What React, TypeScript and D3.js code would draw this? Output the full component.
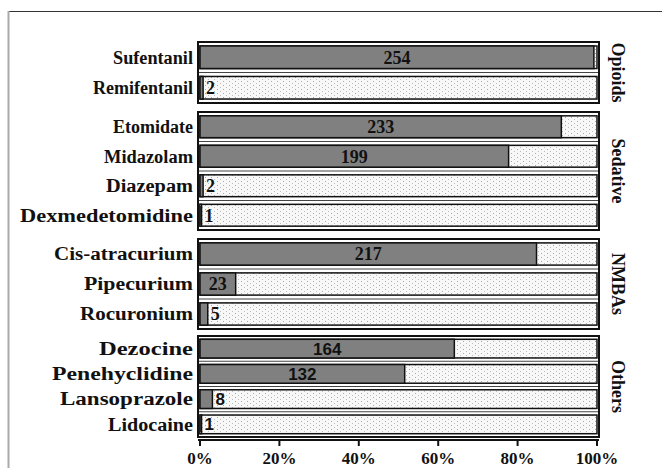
import React from "react";
import * as d3 from "d3";

const groupNames = ["Opioids", "Sedative", "NMBAs", "Others"];
const drugs = [
  "Sufentanil", "Remifentanil",
  "Etomidate", "Midazolam", "Diazepam", "Dexmedetomidine",
  "Cis-atracurium", "Pipecurium", "Rocuronium",
  "Dezocine", "Penehyclidine", "Lansoprazole", "Lidocaine",
];
const drugGroup = [0, 0, 1, 1, 1, 1, 2, 2, 2, 3, 3, 3, 3];
const counts = [254, 2, 233, 199, 2, 1, 217, 23, 5, 164, 132, 8, 1];
const TOTAL = 256;
const xTicks = [0, 20, 40, 60, 80, 100];

// layout (pixels)
const W = 662, H = 468;
const GROUP_TOP = [42, 112, 239, 336];
const GROUP_BOTTOM = [103, 230, 329, 437];
const X0 = 200, X1 = 597;
const AXIS_Y = 440;
const LABEL_RIGHT = 193;
// left edge of each category label as drawn in the reference (text stretching)
const LABEL_LEFT = [113, 93, 113, 104, 106, 20, 54, 84, 80, 99, 52, 60, 108];

const SERIF = "'Liberation Serif', 'Times New Roman', serif";
const SANS = "'Liberation Sans', Arial, sans-serif";

export default function App() {
  const x = d3.scaleLinear().domain([0, 100]).range([X0, X1]);

  const groups = groupNames.map((g, gi) => {
    const idx = drugs.map((_, i) => i).filter((i) => drugGroup[i] === gi);
    const y = d3
      .scaleBand<string>()
      .domain(idx.map((i) => drugs[i]))
      .range([GROUP_TOP[gi], GROUP_BOTTOM[gi]])
      .padding(0);
    return { name: g, gi, idx, y };
  });

  return (
    <svg
      width={W}
      height={H}
      style={{ position: "absolute", left: 0, top: 0, background: "#fff" }}
    >
      <defs>
        <pattern id="dots" width="6" height="4" patternUnits="userSpaceOnUse">
          <rect width="6" height="4" fill="#f8f8f8" />
          <rect x="1" y="1" width="1" height="1" fill="#a8a8a8" />
          <rect x="4" y="3" width="1" height="1" fill="#bdbdbd" />
        </pattern>
      </defs>
      <rect width={W} height={H} fill="#fff" />
      {/* frame */}
      <line x1={8} x2={W} y1={11.5} y2={11.5} stroke="#333" strokeWidth={1.2} />
      <line x1={8.5} x2={8.5} y1={11} y2={H} stroke="#aaa" strokeWidth={2} />

      {groups.map((g) => {
        const step = g.y.step();
        const bh = step * 0.74;
        const top = GROUP_TOP[g.gi];
        const bottom = GROUP_BOTTOM[g.gi];
        const isSans = g.gi === 3;
        return (
          <g key={g.name}>
            {g.idx.slice(1).map((i) => (
              <line
                key={"s" + i}
                x1={X0 - 2}
                x2={X1 + 2}
                y1={g.y(drugs[i])!}
                y2={g.y(drugs[i])!}
                stroke="#444"
                strokeWidth={1}
              />
            ))}
            {g.idx.map((i) => {
              const bt = g.y(drugs[i])! + (step - bh) / 2;
              const pct = (counts[i] / TOTAL) * 100;
              const xe = x(pct);
              const cy = bt + bh / 2;
              const inside = pct > 5;
              return (
                <g key={drugs[i]}>
                  <rect
                    x={X0}
                    y={bt}
                    width={X1 - X0}
                    height={bh}
                    fill="url(#dots)"
                    stroke="#111"
                    strokeWidth={1.5}
                  />
                  <rect
                    x={X0}
                    y={bt}
                    width={xe - X0}
                    height={bh}
                    fill="#808080"
                    stroke="#111"
                    strokeWidth={1.5}
                  />
                  <text
                    x={LABEL_RIGHT}
                    y={cy}
                    dy="0.35em"
                    textAnchor="end"
                    textLength={LABEL_RIGHT - LABEL_LEFT[i]}
                    lengthAdjust="spacingAndGlyphs"
                    fontFamily={SERIF}
                    fontWeight="bold"
                    fontSize={18}
                    fill="#111"
                  >
                    {drugs[i]}
                  </text>
                  <text
                    x={inside ? (X0 + xe) / 2 : xe + 3}
                    y={cy}
                    dy="0.36em"
                    textAnchor={inside ? "middle" : "start"}
                    fontFamily={isSans ? SANS : SERIF}
                    fontWeight="bold"
                    fontSize={isSans ? 17 : 18}
                    fill="#111"
                  >
                    {counts[i]}
                  </text>
                </g>
              );
            })}
            <rect
              x={X0 - 2}
              y={top}
              width={X1 - X0 + 4}
              height={bottom - top}
              fill="none"
              stroke="#111"
              strokeWidth={2}
            />
            <text
              transform={`translate(612,${(top + bottom) / 2}) rotate(90)`}
              textAnchor="middle"
              fontFamily={SERIF}
              fontWeight="bold"
              fontSize={18}
              fill="#111"
            >
              {g.name}
            </text>
          </g>
        );
      })}

      {/* x axis */}
      <line x1={X0 - 2} x2={X1 + 2} y1={AXIS_Y} y2={AXIS_Y} stroke="#111" strokeWidth={2} />
      {xTicks.map((t) => (
        <g key={t}>
          <line
            x1={x(t)}
            x2={x(t)}
            y1={AXIS_Y}
            y2={AXIS_Y + 6}
            stroke="#111"
            strokeWidth={2}
          />
          <text
            x={x(t)}
            y={464}
            textAnchor="middle"
            fontFamily={SERIF}
            fontWeight="bold"
            fontSize={17}
            fill="#111"
          >
            {t + "%"}
          </text>
        </g>
      ))}
    </svg>
  );
}
